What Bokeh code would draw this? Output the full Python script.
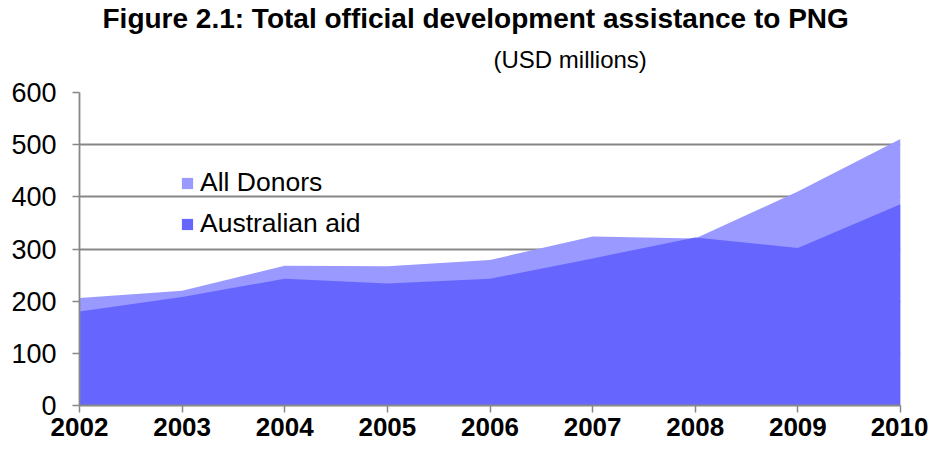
from bokeh.plotting import figure
from bokeh.models import ColumnDataSource, FixedTicker, Legend, LegendItem, Title
from bokeh.embed import file_html
from bokeh.resources import INLINE

years = [2002, 2003, 2004, 2005, 2006, 2007, 2008, 2009, 2010]
all_donors = [206, 220, 268, 267, 279, 324, 320, 410, 511]
australian_aid = [180, 208, 243, 234, 243, 282, 322, 302, 386]
y_ticks = [0, 100, 200, 300, 400, 500, 600]

title_text = "Figure 2.1: Total official development assistance to PNG"
subtitle_text = "(USD millions)"

FONT = "Liberation Sans"
GRAY = "#878787"

src = ColumnDataSource(data=dict(year=years, all=all_donors, aus=australian_aid))

p = figure(width=928, height=450, output_backend="svg", toolbar_location=None,
           x_range=(years[0], years[-1]), y_range=(0, 600),
           min_border_left=79, min_border_right=28, min_border_top=92, min_border_bottom=45)
p.outline_line_color = None
p.background_fill_color = "white"
p.border_fill_color = "white"

r_all = p.varea(x="year", y1=0, y2="all", source=src, fill_color="#9999FF")
r_aus = p.varea(x="year", y1=0, y2="aus", source=src, fill_color="#6666FF")

p.xgrid.visible = False
p.ygrid.grid_line_color = GRAY
p.ygrid.grid_line_width = 1.8
p.ygrid.ticker = FixedTicker(ticks=y_ticks)

p.xaxis.ticker = FixedTicker(ticks=years)
p.yaxis.ticker = FixedTicker(ticks=y_ticks)
for ax in (p.xaxis[0], p.yaxis[0]):
    ax.axis_line_color = GRAY
    ax.axis_line_width = 1.8
    ax.major_tick_line_color = GRAY
    ax.major_tick_line_width = 1.5
    ax.major_tick_in = 0
    ax.major_tick_out = 7
    ax.minor_tick_line_color = None
    ax.major_label_text_font = FONT
    ax.major_label_text_color = "black"
p.xaxis.major_label_text_font_size = "26px"
p.yaxis.major_label_text_font_size = "27px"
p.xaxis.major_label_text_font_style = "bold"
p.xaxis.major_label_standoff = 5
p.yaxis.major_label_standoff = 16

legend = Legend(items=[LegendItem(label="All Donors", renderers=[r_all]),
                       LegendItem(label="Australian aid", renderers=[r_aus])],
                location=(101, 166), padding=0, margin=0, spacing=10,
                glyph_width=14, glyph_height=14, label_standoff=6,
                label_text_font=FONT, label_text_font_size="26.5px",
                label_text_color="black",
                background_fill_alpha=0, border_line_color=None)
p.add_layout(legend, "center")

p.add_layout(Title(text=subtitle_text, text_font=FONT, text_font_size="24px",
                   text_font_style="normal", text_color="black",
                   align="left", offset=414, standoff=39), "above")
p.add_layout(Title(text=title_text, text_font=FONT, text_font_size="28px",
                   text_font_style="bold", text_color="black",
                   align="left", offset=23, standoff=-18), "above")

open("out.html", "w").write(file_html(p, INLINE))
